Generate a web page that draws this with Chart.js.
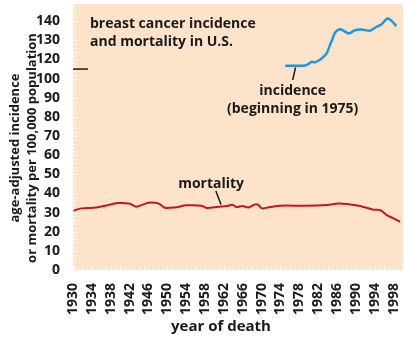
<!DOCTYPE html>
<html>
<head>
<meta charset="utf-8">
<script src="https://cdn.jsdelivr.net/npm/chart.js@4.4.1/dist/chart.umd.min.js"></script>
<style>
  html, body { margin: 0; padding: 0; background: #fff; }
</style>
</head>
<body>
<canvas id="chart" width="408" height="350"></canvas>
<script>
// x-axis tick labels (years)
const yearTicks = [1930, 1934, 1938, 1942, 1946, 1950, 1954, 1958, 1962, 1966, 1970, 1974, 1978, 1982, 1986, 1990, 1994, 1998];
// y-axis tick labels; 110 is cut out of the axis (broken axis)
const yTickLabels = [0, 10, 20, 30, 40, 50, 60, 70, 80, 90, 100, 120, 130, 140];
const BREAK_GAP = 10;

// mortality per 100,000
const mortalityYears = [1930.1, 1931.8, 1934.3, 1936.4, 1939.6, 1942.1, 1943.4, 1946.0, 1948.1, 1949.5, 1951.6, 1954.1, 1957.3, 1958.4, 1960.9, 1962.6, 1963.8, 1964.7, 1966.0, 1967.2, 1968.6, 1969.3, 1970.1, 1971.8, 1973.9, 1978.9, 1983.9, 1986.3, 1988.1, 1990.9, 1993.8, 1995.2, 1996.6, 1998.0, 1999.4];
const mortality = [31.0, 32.2, 32.5, 33.4, 35.0, 34.6, 33.1, 35.2, 34.8, 32.5, 32.7, 33.8, 33.6, 32.4, 33.1, 33.4, 34.1, 32.9, 33.4, 32.7, 34.3, 34.0, 32.2, 32.9, 33.6, 33.6, 34.0, 34.8, 34.5, 33.4, 31.5, 31.3, 28.7, 27.0, 25.2];

// incidence per 100,000, beginning in 1975 (values as read against the upper labels)
const incidenceYears = [1975.0, 1979.2, 1979.9, 1980.7, 1981.3, 1982.3, 1983.1, 1983.8, 1984.5, 1985.0, 1985.5, 1986.1, 1986.9, 1988.5, 1989.8, 1991.2, 1993.0, 1994.4, 1995.4, 1996.7, 1997.6, 1998.6];
const incidence = [116.7, 116.9, 117.6, 118.8, 118.5, 119.7, 121.4, 123.2, 127.5, 130.5, 133.6, 135.3, 135.7, 133.6, 135.3, 135.7, 135.0, 137.1, 138.3, 141.4, 140.2, 137.4];

// values above the break sit BREAK_GAP lower on the axis
function toAxis(v) {
  return v > 100 ? v - BREAK_GAP : v;
}

const FONT = '"Open Sans"';
const INK = '#1a1a1a';

const decorPlugin = {
  id: 'decor',
  beforeDraw(chart) {
    const { ctx, chartArea: a } = chart;
    ctx.save();
    ctx.fillStyle = '#fde3c9';
    ctx.fillRect(a.left, a.top, a.right - a.left, a.bottom - a.top);
    ctx.restore();
  },
  beforeDatasetsDraw(chart) {
    const { ctx, chartArea: a, scales } = chart;
    ctx.save();
    ctx.strokeStyle = '#ffffff';
    ctx.lineWidth = 1;
    // minor ticks on the left edge, every 2 units
    for (let v = 0; v <= 138; v += 2) {
      const py = Math.round(scales.y.getPixelForValue(v)) + 0.5;
      const len = v % 10 === 0 ? 5 : 3;
      ctx.beginPath();
      ctx.moveTo(a.left, py);
      ctx.lineTo(a.left + len, py);
      ctx.stroke();
    }
    // minor ticks on the bottom edge, every year
    for (let yr = 1930; yr <= 2000; yr++) {
      const px = Math.round(scales.x.getPixelForValue(yr)) + 0.5;
      const len = yr % 2 === 0 ? 4 : 3;
      ctx.beginPath();
      ctx.moveTo(px, a.bottom);
      ctx.lineTo(px, a.bottom - len);
      ctx.stroke();
    }
    // axis break mark
    const by = scales.y.getPixelForValue(105);
    ctx.strokeStyle = INK;
    ctx.lineWidth = 1.5;
    ctx.beginPath();
    ctx.moveTo(a.left, by);
    ctx.lineTo(a.left + 15, by);
    ctx.stroke();
    ctx.restore();
  },
  afterDatasetsDraw(chart) {
    const { ctx, scales } = chart;
    const x = scales.x, y = scales.y;
    ctx.save();
    ctx.fillStyle = INK;
    ctx.strokeStyle = INK;
    ctx.font = `bold 14px ${FONT}`;
    ctx.textBaseline = 'alphabetic';

    // title in the plot
    ctx.textAlign = 'left';
    ctx.fillText('breast cancer incidence', 90, 28);
    ctx.fillText('and mortality in U.S.', 90, 46);

    // mortality label + leader
    ctx.fillText('mortality', x.getPixelForValue(1952.3), y.getPixelForValue(43));
    ctx.lineWidth = 1.5;
    ctx.beginPath();
    ctx.moveTo(x.getPixelForValue(1960.3), y.getPixelForValue(41.3));
    ctx.lineTo(x.getPixelForValue(1961.4), y.getPixelForValue(34.2));
    ctx.stroke();

    // incidence label + leader
    ctx.textAlign = 'center';
    const ix = x.getPixelForValue(1976.6);
    ctx.fillText('incidence', ix, 95);
    ctx.fillText('(beginning in 1975)', ix, 113);
    ctx.beginPath();
    ctx.moveTo(x.getPixelForValue(1977.2), y.getPixelForValue(105.8));
    ctx.lineTo(x.getPixelForValue(1976.6), y.getPixelForValue(99.3));
    ctx.stroke();

    // axis titles
    ctx.font = `bold 15px ${FONT}`;
    ctx.textAlign = 'center';
    ctx.textBaseline = 'middle';
    ctx.fillText('year of death', 221, 327);

    ctx.font = `bold 13px ${FONT}`;
    ctx.translate(15, 148);
    ctx.rotate(-Math.PI / 2);
    ctx.fillText('age-adjusted incidence', 0, 0);
    ctx.fillText('or mortality per 100,000 population', 0, 17);
    ctx.restore();
  }
};

new Chart(document.getElementById('chart'), {
  type: 'line',
  data: {
    datasets: [
      {
        label: 'mortality',
        data: mortalityYears.map((yr, i) => ({ x: yr, y: mortality[i] })),
        borderColor: '#c4161c',
        borderWidth: 2,
        pointRadius: 0,
        tension: 0.3
      },
      {
        label: 'incidence',
        data: incidenceYears.map((yr, i) => ({ x: yr, y: toAxis(incidence[i]) })),
        borderColor: '#1e96e6',
        borderWidth: 2.5,
        pointRadius: 0,
        tension: 0.3
      }
    ]
  },
  options: {
    responsive: false,
    devicePixelRatio: 1,
    animation: false,
    layout: { padding: { top: 4, right: 5, left: 0, bottom: 0 } },
    plugins: { legend: { display: false }, tooltip: { enabled: false } },
    scales: {
      x: {
        type: 'linear',
        min: 1930,
        max: 2000,
        afterBuildTicks: s => { s.ticks = yearTicks.map(v => ({ value: v })); },
        afterFit: s => { s.height = 80; s.paddingLeft = 0; s.paddingRight = 0; },
        grid: { display: false },
        border: { display: false },
        ticks: {
          autoSkip: false,
          minRotation: 90,
          maxRotation: 90,
          padding: 5,
          color: INK,
          font: { family: FONT, weight: 'bold', size: 14 },
          callback: v => String(v)
        }
      },
      y: {
        type: 'linear',
        min: 0,
        max: 139,
        afterBuildTicks: s => { s.ticks = yTickLabels.map(v => ({ value: toAxis(v) })); },
        afterFit: s => { s.width = 73; s.paddingTop = 0; s.paddingBottom = 0; },
        grid: { display: false },
        border: { display: false },
        ticks: {
          autoSkip: false,
          padding: 5,
          color: INK,
          font: { family: FONT, weight: 'bold', size: 14 },
          callback: (v, i) => String(yTickLabels[i])
        }
      }
    }
  },
  plugins: [decorPlugin]
});
</script>
</body>
</html>
